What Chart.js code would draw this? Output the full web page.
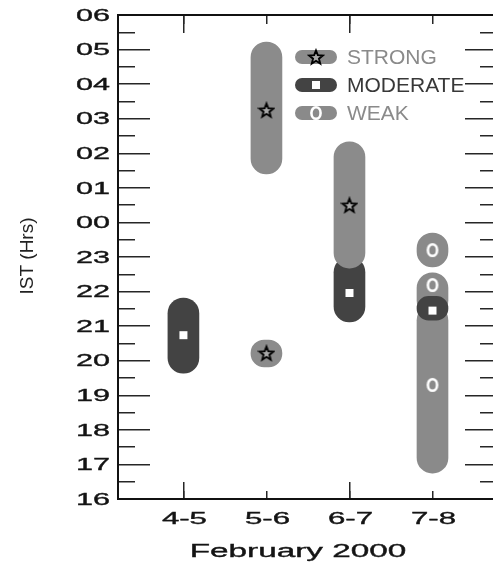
<!DOCTYPE html>
<html>
<head>
<meta charset="utf-8">
<script src="https://cdn.jsdelivr.net/npm/chart.js@4.4.1/dist/chart.umd.min.js"></script>
<style>
  html, body { margin: 0; padding: 0; background: #fff; overflow: hidden; }
  .chart-box { width: 504px; height: 562px; }
</style>
</head>
<body>
<div class="chart-box"><canvas id="stormChart" width="504" height="562"></canvas></div>
<script>
// Nights of February 2000 and the hour labels of the time axis
const nights = ['4-5', '5-6', '6-7', '7-8'];
const hourLabels = ['16', '17', '18', '19', '20', '21', '22', '23', '00', '01', '02', '03', '04', '05', '06'];

// Activity spans in IST hours; times after midnight carry +24
const strongNight = ['5-6', '5-6', '6-7'];
const strongStart = [25.40, 19.82, 22.68];
const strongEnd = [29.22, 20.60, 26.33];
const strongMark = [27.25, 20.22, 24.50];

const moderateNight = ['4-5', '6-7', '7-8'];
const moderateStart = [19.64, 21.12, 21.17];
const moderateEnd = [21.81, 23.00, 21.86];
const moderateMark = [20.74, 21.96, 21.45];

const weakNight = ['7-8', '7-8', '7-8'];
const weakStart = [22.71, 21.30, 16.75];
const weakEnd = [23.69, 22.54, 21.60];
const weakMark = [23.20, 22.19, 19.30];

const strongColor = '#8b8b8b';
const moderateColor = '#434343';
const weakColor = '#8a8a8a';
const FONT = "'Liberation Sans', Arial, sans-serif";
const X_MIN = 0.212, X_MAX = 4.777;
const Y_MIN = 16, Y_MAX = 30;

// small canvases used as point styles
function markCanvas(w, h, draw) {
  const c = document.createElement('canvas');
  c.width = w;
  c.height = h;
  draw(c.getContext('2d'), w / 2, h / 2);
  return c;
}
const starMark = markCanvas(18, 18, (g, cx, cy) => {
  g.beginPath();
  for (let k = 0; k < 10; k++) {
    const r = k % 2 ? 3.1 : 7.2;
    const a = -Math.PI / 2 + k * Math.PI / 5;
    g.lineTo(cx + r * Math.cos(a), cy + 0.7 + r * Math.sin(a));
  }
  g.closePath();
  g.fillStyle = '#a8a8a8';
  g.fill();
  g.lineWidth = 1.9;
  g.strokeStyle = '#000';
  g.stroke();
});
const squareMark = markCanvas(10, 10, (g) => {
  g.fillStyle = '#fff';
  g.fillRect(1, 1, 8, 8);
});
const ringMark = markCanvas(16, 18, (g, cx, cy) => {
  g.beginPath();
  g.ellipse(cx, cy, 4.6, 5.8, 0, 0, Math.PI * 2);
  g.lineWidth = 2.6;
  g.strokeStyle = '#fff';
  g.stroke();
});

function spans(night, start, end) {
  return night.map((n, i) => ({ x: nights.indexOf(n) + 1, y: [start[i], end[i]] }));
}
function marks(night, at) {
  return night.map((n, i) => ({ x: nights.indexOf(n) + 1, y: at[i] }));
}

const hourTicks = hourLabels.map((h, i) => Y_MIN + i);
const halfTicks = hourTicks.slice(0, -1).map(v => v + 0.5);
const nightTicks = nights.map((n, i) => i + 1);
const longNightTicks = nightTicks.filter(v => v % 2 === 1);

// axes only used for their inward tick marks and the frame
function tickAxis(position, values, length, border) {
  const horizontal = position === 'top' || position === 'bottom';
  return {
    type: 'linear',
    position: position,
    min: horizontal ? X_MIN : Y_MIN,
    max: horizontal ? X_MAX : Y_MAX,
    bounds: 'data',
    offset: false,
    beginAtZero: false,
    ticks: { display: false },
    grid: {
      display: true, offset: false, drawOnChartArea: false, drawTicks: true,
      tickLength: -length, tickWidth: 1.5, lineWidth: 1.5, tickColor: '#262626'
    },
    border: { display: border, width: 2, color: '#111' },
    afterBuildTicks: (s) => { s.ticks = values.map(v => ({ value: v })); },
    afterFit: (s) => { if (horizontal) { s.height = 0; } else { s.width = 0; } }
  };
}

function stretchedText(ctx, text, x, y, size, sx, align) {
  ctx.save();
  ctx.font = size + 'px ' + FONT;
  ctx.translate(x, y);
  ctx.scale(sx, 1);
  ctx.textAlign = align;
  ctx.textBaseline = 'middle';
  ctx.fillText(text, 0, 0);
  ctx.lineWidth = 0.35;
  ctx.strokeStyle = ctx.fillStyle;
  ctx.strokeText(text, 0, 0);
  ctx.restore();
}

// wide axis lettering and the rotated axis title
const axisText = {
  id: 'axisText',
  afterDraw(chart) {
    const { ctx, chartArea } = chart;
    const x = chart.scales.x, y = chart.scales.y;
    ctx.fillStyle = '#141414';
    hourLabels.forEach((lab, i) => {
      stretchedText(ctx, lab, 110, y.getPixelForValue(hourTicks[i]) + 1, 17, 1.8, 'right');
    });
    nights.forEach((lab, i) => {
      stretchedText(ctx, lab, x.getPixelForValue(nightTicks[i]) + 1, 520, 16, 1.95, 'center');
    });
    stretchedText(ctx, 'February 2000', 298, 552, 18, 1.85, 'center');

    ctx.save();
    ctx.translate(28, (chartArea.top + chartArea.bottom) / 2 - 1);
    ctx.rotate(-Math.PI / 2);
    ctx.font = '19px ' + FONT;
    ctx.textAlign = 'center';
    ctx.textBaseline = 'middle';
    ctx.fillStyle = '#222';
    ctx.fillText('IST (Hrs)', 0, 0);
    ctx.restore();
  }
};

// legend with pill swatches
const legendRows = [
  { label: 'STRONG', fill: strongColor, text: '#8a8a8a', mark: starMark },
  { label: 'MODERATE', fill: moderateColor, text: '#383838', mark: squareMark },
  { label: 'WEAK', fill: weakColor, text: '#8a8a8a', mark: ringMark }
];
const pillLegend = {
  id: 'pillLegend',
  afterDraw(chart) {
    const ctx = chart.ctx;
    legendRows.forEach((row, i) => {
      const cy = 57 + i * 28;
      ctx.save();
      ctx.fillStyle = row.fill;
      ctx.beginPath();
      ctx.roundRect(295, cy - 7, 42, 14, 7);
      ctx.fill();
      ctx.drawImage(row.mark, 316 - row.mark.width / 2, cy - row.mark.height / 2);
      ctx.font = '21px ' + FONT;
      ctx.textAlign = 'left';
      ctx.textBaseline = 'middle';
      ctx.fillStyle = row.text;
      ctx.fillText(row.label, 347, cy + 1);
      ctx.restore();
    });
  }
};

const barStyle = {
  type: 'bar', grouped: false, barThickness: 31, borderRadius: 16,
  borderSkipped: false, xAxisID: 'x', yAxisID: 'y'
};
const markStyle = { type: 'scatter', pointRadius: 6, xAxisID: 'x', yAxisID: 'y', order: 0 };

new Chart(document.getElementById('stormChart'), {
  type: 'bar',
  data: {
    datasets: [
      { ...markStyle, label: 'strong marks', data: marks(strongNight, strongMark), pointStyle: starMark },
      { ...markStyle, label: 'moderate marks', data: marks(moderateNight, moderateMark), pointStyle: squareMark },
      { ...markStyle, label: 'weak marks', data: marks(weakNight, weakMark), pointStyle: ringMark },
      { ...barStyle, label: 'STRONG', data: spans(strongNight, strongStart, strongEnd), backgroundColor: strongColor, order: 1 },
      { ...barStyle, label: 'MODERATE', data: spans(moderateNight, moderateStart, moderateEnd), backgroundColor: moderateColor, order: 2 },
      { ...barStyle, label: 'WEAK', data: spans(weakNight, weakStart, weakEnd), backgroundColor: weakColor, order: 3 }
    ]
  },
  options: {
    responsive: false,
    animation: false,
    events: [],
    devicePixelRatio: 1,
    layout: { padding: { left: 118, top: 15, right: 4, bottom: 63 } },
    plugins: { legend: { display: false }, tooltip: { enabled: false } },
    scales: {
      x: tickAxis('bottom', longNightTicks, 17, true),
      xShort: tickAxis('bottom', nightTicks, 8, false),
      xTop: tickAxis('top', longNightTicks, 18, true),
      xTopShort: tickAxis('top', nightTicks, 9, false),
      y: tickAxis('left', hourTicks, 32, true),
      yHalf: tickAxis('left', halfTicks, 17, false),
      yRight: tickAxis('right', hourTicks, 32, true),
      yRightHalf: tickAxis('right', halfTicks, 17, false)
    }
  },
  plugins: [axisText, pillLegend]
});
</script>
</body>
</html>
